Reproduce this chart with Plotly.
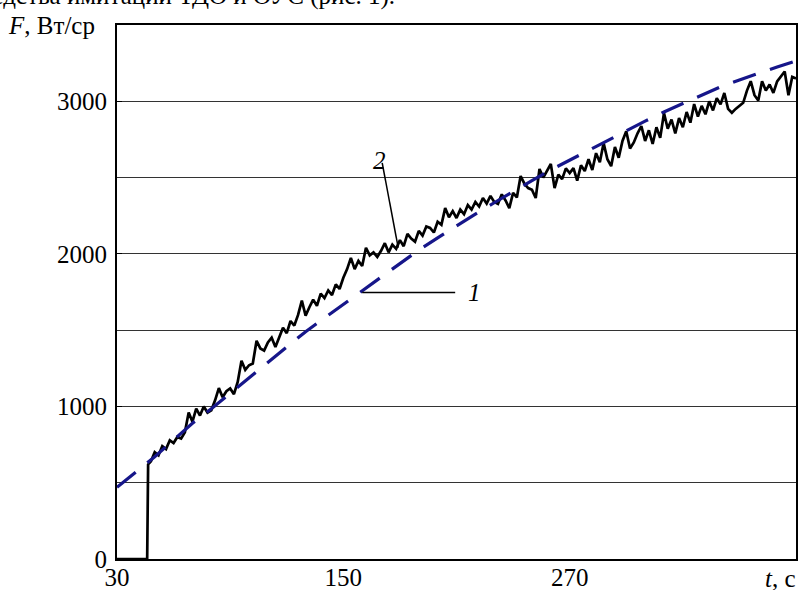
import plotly.graph_objects as go

# ---------------- data ----------------
# Series 1 (blue dashed): smooth reference curve
t1 = [30, 40, 50, 60, 70, 80, 90, 100, 110, 120, 130, 140, 150, 160, 170, 180,
      190, 200, 210, 220, 230, 240, 250, 260, 270, 280, 290, 300, 310, 320, 330,
      340, 350, 360, 370, 380, 390]
f1 = [470, 570, 670, 780, 890, 985, 1085, 1185, 1290, 1390, 1490, 1580, 1670,
      1760, 1850, 1940, 2025, 2105, 2185, 2260, 2335, 2410, 2480, 2550, 2615,
      2680, 2745, 2810, 2870, 2930, 2985, 3040, 3095, 3140, 3185, 3225, 3265]

# Series 2 (black, noisy measurement)
t2 = [30, 46, 46.5] + list(range(48, 391, 2))
f2 = [0, 0, 620,
      640, 700, 680, 740, 720, 778, 760, 800, 790, 830,
      960, 900, 985, 940, 1000, 960, 975, 1040, 1120, 1060,
      1100, 1118, 1080, 1160, 1300, 1240, 1270, 1281, 1430, 1380,
      1366, 1420, 1451, 1390, 1460, 1516, 1480, 1560, 1530, 1600,
      1693, 1595, 1650, 1700, 1660, 1739, 1710, 1760, 1730, 1800,
      1770, 1843, 1900, 1974, 1900, 1954, 1920, 2040, 1990, 2010,
      1980, 2020, 2070, 2010, 2060, 2033, 2090, 2050, 2131, 2100,
      2080, 2150, 2120, 2180, 2170, 2140, 2210, 2190, 2300, 2240,
      2280, 2235, 2290, 2260, 2320, 2290, 2340, 2310, 2366, 2330,
      2380, 2340, 2327, 2390, 2350, 2300, 2400, 2370, 2510, 2460,
      2431, 2420, 2366, 2556, 2500, 2540, 2589, 2431, 2520, 2490,
      2560, 2530, 2562, 2480, 2580, 2543, 2620, 2550, 2660, 2600,
      2726, 2620, 2575, 2700, 2630, 2740, 2804, 2690, 2730, 2790,
      2838, 2740, 2810, 2720, 2830, 2760, 2922, 2820, 2880, 2790,
      2890, 2830, 2930, 2860, 2982, 2900, 2970, 2915, 3000, 2940,
      3020, 2980, 3054, 2950, 2925, 2950, 2970, 2990, 3070, 3132,
      3040, 3005, 3132, 3070, 3110, 3055, 3130, 3160, 3195, 3040,
      3160, 3150]

x_ticks = [30, 150, 270]
y_ticks = [0, 1000, 2000, 3000]

FONT = "Liberation Serif, Times New Roman, serif"

fig = go.Figure()
fig.add_trace(go.Scatter(x=t2, y=f2, mode="lines",
                         line=dict(color="black", width=2.7), name="2"))
fig.add_trace(go.Scatter(x=t1, y=f1, mode="lines",
                         line=dict(color="#16168a", width=3.2, dash="24px,15px"),
                         name="1"))

# leader lines for curve labels
fig.add_shape(type="line", x0=170.6, y0=2596, x1=179.1, y1=2040,
              line=dict(color="black", width=1.5))
fig.add_shape(type="line", x0=160, y0=1746, x1=209.3, y1=1746,
              line=dict(color="black", width=1.5))
fig.add_annotation(x=169, y=2610, text="<i>2</i>", showarrow=False,
                   font=dict(family=FONT, size=25, color="black"))
fig.add_annotation(x=219.8, y=1745, text="<i>1</i>", showarrow=False,
                   font=dict(family=FONT, size=25, color="black"))

# axis titles
fig.add_annotation(xref="paper", yref="paper", x=-0.163, y=1.0,
                   xanchor="left", yanchor="middle",
                   text="<i>F</i>, Вт/ср", showarrow=False,
                   font=dict(family=FONT, size=25, color="black"))
fig.add_annotation(xref="paper", yref="paper", x=1.003, y=-0.036,
                   xanchor="right", yanchor="middle",
                   text="<i>t</i>, с", showarrow=False,
                   font=dict(family=FONT, size=25, color="black"))
# cropped caption line at very top
fig.add_annotation(xref="paper", yref="paper", x=0.412, y=1.054,
                   xanchor="right", yanchor="middle",
                   text="средства имитации ТДО и ОУС (рис. 1).", showarrow=False,
                   font=dict(family=FONT, size=25, color="black"))

fig.update_layout(
    width=806, height=590,
    margin=dict(l=117, r=10, t=25, b=31),
    paper_bgcolor="white", plot_bgcolor="white",
    showlegend=False,
    font=dict(family=FONT, size=25, color="black"),
    xaxis=dict(range=[30, 390], tickvals=x_ticks, ticks="",
               showgrid=False, zeroline=False, ticklabelstandoff=-5,
               automargin=False,
               showline=True, linecolor="black", linewidth=2, mirror=True,
               tickfont=dict(family=FONT, size=25, color="black")),
    yaxis=dict(range=[0, 3500], tickvals=y_ticks, ticks="inside", ticklen=5,
               tickcolor="black", showgrid=True, gridcolor="#333", gridwidth=1,
               minor=dict(dtick=500, showgrid=True, gridcolor="#333", gridwidth=1),
               zeroline=False, ticklabelstandoff=3, automargin=False,
               showline=True, linecolor="black", linewidth=2, mirror=True,
               tickfont=dict(family=FONT, size=25, color="black")),
)

fig.write_html("out.html",
               config={"displayModeBar": False},
               post_script="document.body.style.margin='0px';"
                           "document.body.style.overflow='hidden';")
